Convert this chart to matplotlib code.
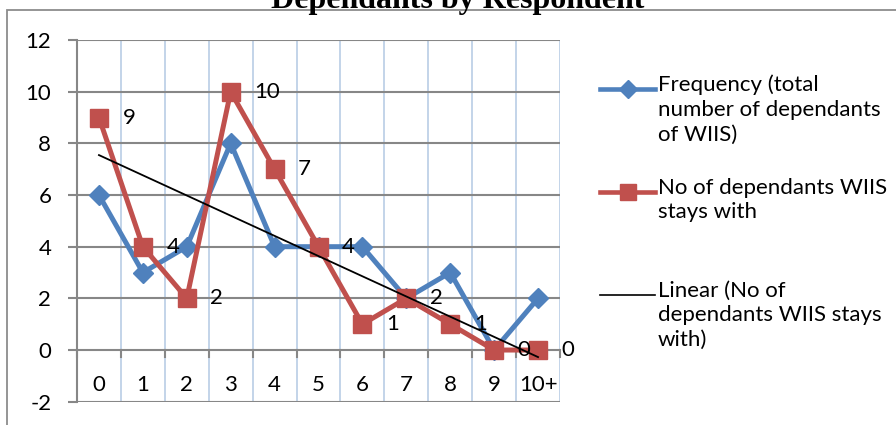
import numpy as np
import matplotlib
matplotlib.use("Agg")
import matplotlib.pyplot as plt
from matplotlib.lines import Line2D
from matplotlib.patches import Rectangle

# Number of dependants per respondent
categories = ["0", "1", "2", "3", "4", "5", "6", "7", "8", "9", "10+"]
frequency_total = [6, 3, 4, 8, 4, 4, 4, 2, 3, 0, 2]
stays_with = [9, 4, 2, 10, 7, 4, 1, 2, 1, 0, 0]
y_ticks = [-2, 0, 2, 4, 6, 8, 10, 12]

label_freq = "Frequency (total\nnumber of dependants\nof WIIS)"
label_stay = "No of dependants WIIS\nstays with"
label_trend = "Linear (No of\ndependants WIIS stays\nwith)"
title = "Dependants by Respondent"

BLUE = "#4F81BD"
RED = "#C0504D"
GRID_GRAY = "#878787"
GRID_BLUE = "#B9CDE5"
FONT = "Lato"
FS = 16

W, H = 896, 425
fig = plt.figure(figsize=(W / 100, H / 100), dpi=100)


def fx(px):
    return px / W


def fy(py):
    return 1 - py / H


# chart-area frame
fig.patches.append(Rectangle((fx(7), fy(440)), fx(900), 430 / H, transform=fig.transFigure,
                             fill=False, edgecolor="#8C8C8C", lw=1.3, zorder=0))

fig.text(fx(458), fy(8), title, ha="center", va="baseline",
         fontsize=23, fontweight="bold", family="Liberation Serif")

left, right, top, bottom = 77, 560, 40, 401.7
ax = fig.add_axes([fx(left), fy(bottom), fx(right - left), (bottom - top) / H])

x = np.arange(len(categories))
ax.set_xlim(-0.5, len(categories) - 0.5)
ax.set_ylim(-2, 12)

for s in ["top", "right", "bottom"]:
    ax.spines[s].set_visible(False)
ax.spines["left"].set_color(GRID_GRAY)
ax.spines["left"].set_linewidth(1.5)

# horizontal grid
for v in y_ticks:
    ax.axhline(v, color=GRID_GRAY, lw=1.5, zorder=1)
# vertical grid between categories
for b in np.arange(0.5, len(categories) + 0.5, 1.0):
    ax.axvline(b, color=GRID_BLUE, lw=1.2, zorder=0.5)

# category-axis tick marks on the zero line
for b in np.arange(-0.5, len(categories) + 0.5, 1.0):
    ax.plot([b, b], [0, -0.28], color=GRID_GRAY, lw=1.5, zorder=1, clip_on=False)

ax.set_yticks(y_ticks)
ax.set_yticklabels([str(v) for v in y_ticks], fontsize=FS, family=FONT)
ax.tick_params(axis="y", length=6.5, width=1.5, color=GRID_GRAY, pad=12)
ax.set_xticks([])

for xi, c in zip(x, categories):
    ax.text(xi, -1.35, c, ha="center", va="center", fontsize=FS, family=FONT)

ax.plot(x, frequency_total, color=BLUE, lw=3.6, marker="D", markersize=10.5,
        markerfacecolor=BLUE, markeredgecolor=BLUE, zorder=3, clip_on=False)
ax.plot(x, stays_with, color=RED, lw=3.6, marker="s", markersize=13,
        markerfacecolor=RED, markeredgecolor=RED, zorder=4, clip_on=False)

slope, intercept = np.polyfit(x, stays_with, 1)
ax.plot(x, slope * x + intercept, color="black", lw=1.3, zorder=5, clip_on=False)

for xi, v in zip(x, stays_with):
    ax.annotate(str(v), (xi, v), xytext=(17, 0), textcoords="offset points",
                ha="left", va="center", fontsize=FS, family=FONT, zorder=6,
                annotation_clip=False)


# legend
def legend_entry(ypx, text, color, marker, ms, lw):
    fig.add_artist(Line2D([fx(600), fx(655)], [fy(ypx), fy(ypx)], color=color, lw=lw,
                          transform=fig.transFigure))
    if marker:
        fig.add_artist(Line2D([fx(627.5)], [fy(ypx)], color=color, marker=marker,
                              markersize=ms, transform=fig.transFigure))
    fig.text(fx(658), fy(ypx - 14.5), text, ha="left", va="top", fontsize=FS, family=FONT,
             linespacing=1.3, transform=fig.transFigure)


legend_entry(89, label_freq, BLUE, "D", 9.5, 3.3)
legend_entry(192, label_stay, RED, "s", 11, 3.3)
legend_entry(295, label_trend, "black", None, 0, 1.2)

fig.savefig("out.png", dpi=100)
